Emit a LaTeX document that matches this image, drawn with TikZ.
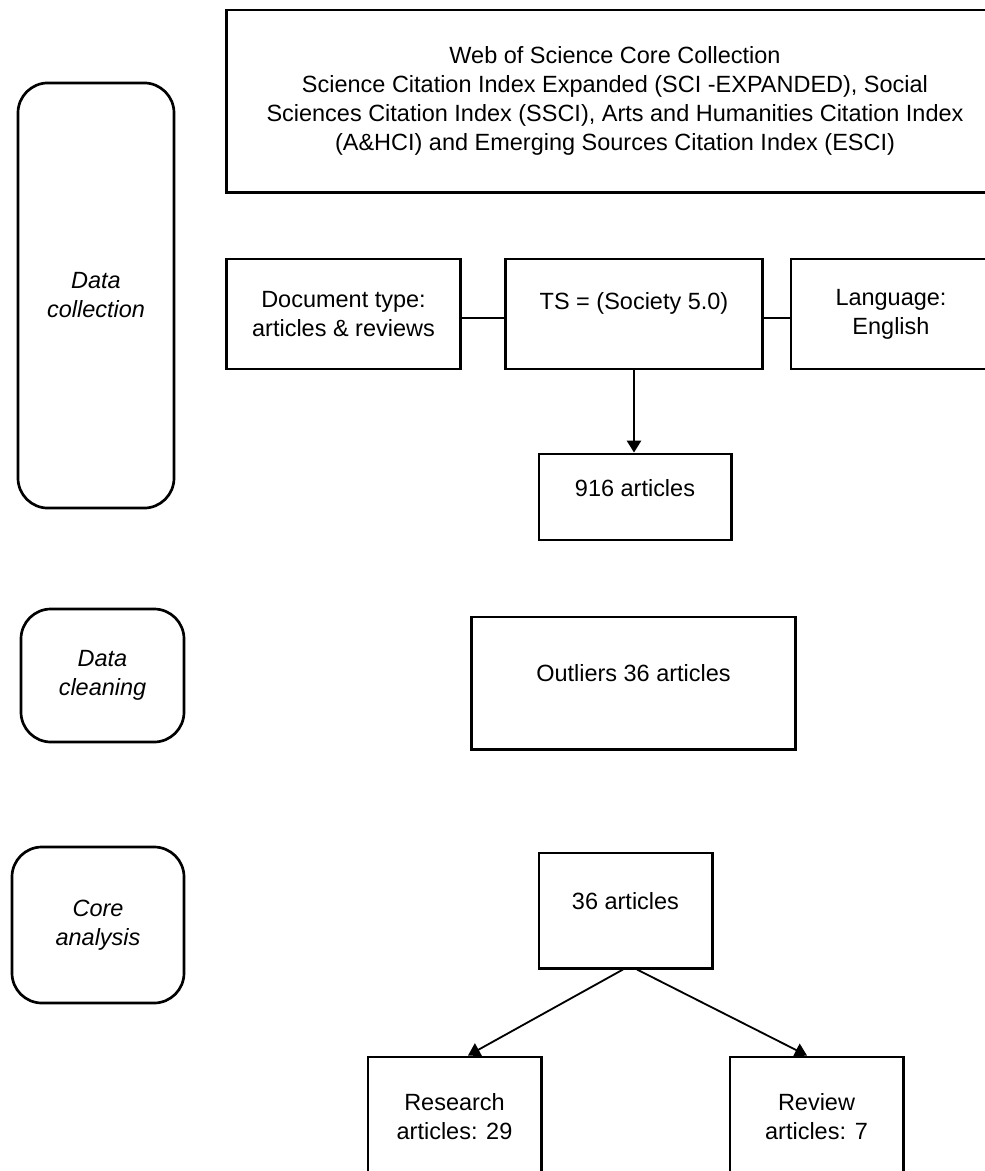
\documentclass[tikz,border=0pt]{standalone}
\usepackage{fontspec}
\setmainfont{Liberation Sans}
\usetikzlibrary{arrows.meta, positioning, calc}

\begin{document}
\begin{tikzpicture}[x=0.025cm,y=-0.025cm,
      every node/.style={font=\fontsize{16.7}{20.6}\selectfont, inner sep=0pt},
      box/.style={rectangle, draw, line width=2.1pt, align=center},
      stage/.style={rectangle, draw, rounded corners=0.75cm, line width=1.9pt,
         align=center, font=\fontsize{16.7}{20.6}\selectfont\itshape},
      hightext/.style={text height=0.44cm, text depth=#1},
      link/.style={line width=1.3pt},
      >={Triangle[length=0.3cm,width=0.36cm]}]

   \useasboundingbox (0,0) rectangle (985,1171);
   \clip (0,0) rectangle (985,1171);

   % stages
   \node [stage, minimum width=3.9cm, minimum height=10.625cm] at (96,295.5) (collect) {Data\\collection};
   \node [stage, minimum width=4.075cm, minimum height=3.325cm] at (102.5,675.5) (clean) {Data\\cleaning};
   \node [stage, minimum width=4.3cm, minimum height=3.9cm] at (98,925) (analysis) {Core\\analysis};

   % data collection
   \node [box, minimum width=19.4cm, minimum height=4.55cm] at (615,101) (wos)
      {Web of Science Core Collection\\
       Science Citation Index Expanded (SCI -EXPANDED), Social\\
       Sciences Citation Index (SSCI), Arts and Humanities Citation Index\\
       (A\&HCI) and Emerging Sources Citation Index (ESCI)};

   \node [box, minimum width=5.825cm, minimum height=2.75cm] at (343.5,314) (doctype) {Document type:\\articles \& reviews};
   \node [box, hightext=0.69cm, minimum width=6.4cm, minimum height=2.75cm] at (634,314) (query) {TS = (Society 5.0)};
   \node [box, minimum width=5cm, minimum height=2.75cm] at (891,314) (lang) {Language:\\English};

   \node [box, hightext=0.49cm, minimum width=4.8cm, minimum height=2.15cm] at (635,497) (total) {916 articles};

   % data cleaning
   \node [box, hightext=0.54cm, minimum width=8.075cm, minimum height=3.3cm] at (633.5,683) (outliers) {Outliers 36 articles};

   % core analysis
   \node [box, hightext=0.51cm, minimum width=4.325cm, minimum height=2.875cm] at (625.5,910.5) (core) {36 articles};
   \node [box, minimum width=4.325cm, minimum height=3cm] at (454.5,1117) (research) {Research\\articles: 29};
   \node [box, minimum width=4.325cm, minimum height=3cm] at (816.5,1117) (review) {Review\\articles: 7};

   \draw [link] ($(doctype.east)+(0,4)$) -- ($(query.west)+(0,4)$);
   \draw [link] ($(query.east)+(0,4)$) -- ($(lang.west)+(0,4)$);
   \draw [->, link] (query.south) -- (query.south |- total.north);

   \draw [->, link] ($(core.south)+(-2.5,0)$) -- ($(research.north)+(13.5,0)$);
   \draw [->, link] ($(core.south)+(11.5,0)$) -- ($(review.north)+(-9.5,0)$);
\end{tikzpicture}
\end{document}
